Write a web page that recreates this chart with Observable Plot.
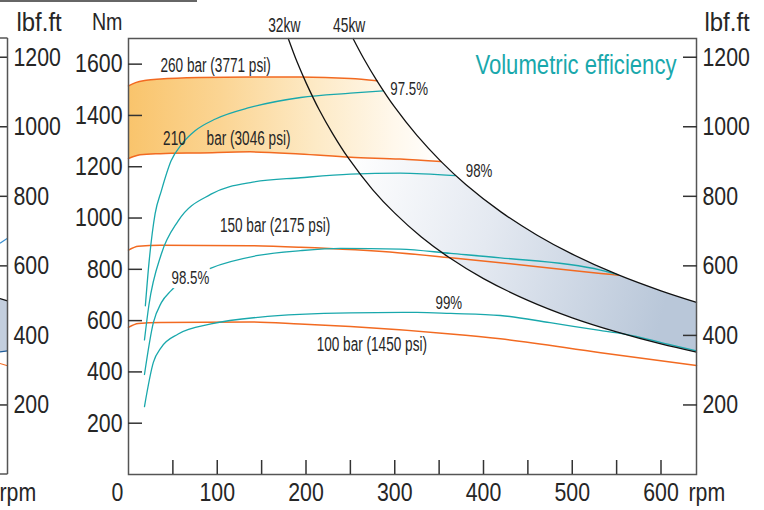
<!DOCTYPE html>
<html><head><meta charset="utf-8">
<script src="https://cdn.jsdelivr.net/npm/d3@7"></script>
<script src="https://cdn.jsdelivr.net/npm/@observablehq/plot@0.6"></script>
<style>
html,body{margin:0;padding:0;background:#fff;}
#chart{width:764px;height:510px;overflow:hidden;}
</style></head><body><div id="chart"></div>
<script>
// ---- data (rpm, Nm) ----
const NM_PER_LBF = 1.35582;
const rpmLabels = [100, 200, 300, 400, 500, 600];
const rpmMinorTicks = [50, 100, 150, 200, 250, 300, 350, 400, 450, 500, 550, 600];
const nmTicks = [200, 400, 600, 800, 1000, 1200, 1400, 1600];
const lbfTicks = [200, 400, 600, 800, 1000, 1200];

const bar260 = [[0,1515],[8,1528],[20,1537],[36,1542],[81,1548],[137,1550],[193,1550],[250,1544],[280,1535]];
const bar210 = [[0,1232],[13,1247],[36,1251],[81,1254],[137,1258],[193,1250],[250,1237],[306,1230],[352,1220]];
const bar150 = [[0,875],[11,890],[36,894],[137,892],[194,886],[306,864],[363,845],[419,826],[532,784],[552,777]];
const bar100 = [[0,574],[11,589],[36,593],[137,595],[193,587],[250,577],[363,548],[419,529],[532,475],[640,425]];

const eff975 = [[19,658],[23,822],[30,1017],[37,1106],[48,1223],[60,1288],[75,1340],[98,1386],[137,1431],[194,1470],[250,1487],[287,1496]];
const eff98  = [[18,525],[23,661],[37,860],[56,989],[93,1093],[140,1140],[194,1157],[250,1171],[306,1175],[368,1165]];
const eff985 = [[18,390],[28,592],[37,670],[48,717],[93,805],[144,853],[194,873],[239,882],[306,879],[363,862],[419,845],[532,797],[551,779]];
const eff99  = [[18,265],[28,437],[37,496],[56,548],[93,587],[146,613],[250,630],[325,632],[363,628],[419,620],[475,592],[531,562],[551,552],[580,532],[610,506],[640,482]];

const kw32 = [[180,1700],[190,1608],[200,1528],[215,1421],[230,1329],[247,1237],[275,1111],[300,1019],[330,926],[360,849],[400,764],[450,679],[500,611],[550,556],[600,509],[640,477]];
const kw45 = [[253,1700],[265,1622],[280,1535],[300,1432],[325,1322],[352,1221],[380,1131],[420,1023],[460,934],[500,859],[552,778],[600,716],[640,671]];

const pressureLabels = [
  {text: "260 bar (3771 psi)", rpm: 36, nm: 1593},
  {text: "210", rpm: 39, nm: 1311},
  {text: "bar (3046 psi)", rpm: 88, nm: 1309},
  {text: "150 bar (2175 psi)", rpm: 103, nm: 970},
  {text: "100 bar (1450 psi)", rpm: 212, nm: 508}
];
const effLabels = [
  {text: "97.5%", rpm: 295, nm: 1502},
  {text: "98%", rpm: 380, nm: 1184},
  {text: "99%", rpm: 346, nm: 668}
];
const effLabelOnLine = [{text: "98.5%", rpm: 48.5, nm: 765}];
const powerLabels = [{text: "32kw", rpm: 175.5}, {text: "45kw", rpm: 248.7}];

// left neighbour panel remnant (Nm at left / right edge of the sliver)
const remnantFillTop = [684, 675];
const remnantFillBottom = [476, 480];
const remnantOrange = [431, 422];
const remnantBlue = [900, 919];

// ---- derived shapes ----
const orangeBand = [...bar260, ...kw45.filter(d => d[0] > 280 && d[0] < 352), ...bar210.slice().reverse()];
const grayBand = [...bar210.filter(d => d[0] >= 250), ...kw45.filter(d => d[0] > 352), ...kw32.filter(d => d[0] >= 247).reverse()];

const ORANGE = "#F26A21", TEAL = "#19A8AC", BLACK = "#111", INK = "#262626", FRAME = "#555";
const FONT = "'Liberation Sans',Arial,sans-serif";
const X = d => d[0], Y = d => d[1];
const fmt = d => String(d);

const plot = Plot.plot({
  width: 764, height: 510,
  marginLeft: 128, marginRight: 68, marginTop: 38, marginBottom: 36,
  x: {domain: [0, 640]},
  y: {domain: [0, 1700]},
  style: {fontFamily: FONT, color: INK, background: "white", overflow: "visible"},
  marks: [
    Plot.line(orangeBand, {x: X, y: Y, fill: "url(#orangeFade)", stroke: "none"}),
    Plot.line(grayBand, {x: X, y: Y, fill: "url(#steelFade)", stroke: "none"}),
    ...[bar260, bar210, bar150, bar100].map(s => Plot.line(s, {x: X, y: Y, stroke: ORANGE, strokeWidth: 1.5, curve: "monotone-x"})),
    ...[eff975, eff98, eff985, eff99].map(s => Plot.line(s, {x: X, y: Y, stroke: TEAL, strokeWidth: 1.3, curve: "monotone-x"})),
    ...[kw32, kw45].map(s => Plot.line(s, {x: X, y: Y, stroke: BLACK, strokeWidth: 1.3, curve: "catmull-rom"})),
    Plot.frame({stroke: FRAME, strokeWidth: 1.5}),
    // inward ticks
    Plot.axisY(nmTicks, {anchor: "left", tickSize: 14, dx: 14, fill: "none", stroke: "#333", strokeWidth: 1.5, label: null}),
    Plot.axisY(lbfTicks.map(v => v * NM_PER_LBF), {anchor: "right", tickSize: 14, dx: -14, fill: "none", stroke: "#333", strokeWidth: 1.5, label: null}),
    Plot.axisX(rpmMinorTicks, {anchor: "bottom", tickSize: 14, dy: -14, fill: "none", stroke: "#333", strokeWidth: 1.5, label: null}),
    // tick labels
    Plot.axisY(nmTicks, {anchor: "left", tickSize: 0, tickPadding: 6, fontSize: 26, tickFormat: fmt, label: null}),
    Plot.axisY(lbfTicks.map(v => v * NM_PER_LBF), {anchor: "right", tickSize: 0, tickPadding: 6, fontSize: 26, tickFormat: d => String(Math.round(d / NM_PER_LBF)), label: null}),
    Plot.axisX(rpmLabels, {anchor: "bottom", tickSize: 0, tickPadding: 8, fontSize: 26, tickFormat: fmt, label: null}),
    Plot.text([0], {x: d => d, text: fmt, frameAnchor: "bottom", lineAnchor: "top", dy: 8, dx: -11, fontSize: 26}),
    Plot.text(["rpm"], {frameAnchor: "bottom-right", textAnchor: "start", lineAnchor: "top", dx: -8, dy: 8, fontSize: 26}),
    // axis titles
    Plot.text(["Nm"], {frameAnchor: "top-left", textAnchor: "end", lineAnchor: "middle", dx: -6, dy: -15.7, fontSize: 24}),
    Plot.text(["lbf.ft"], {frameAnchor: "top-right", textAnchor: "start", lineAnchor: "middle", dx: 8, dy: -16.3, fontSize: 26, ariaDescription: "narrow-92"}),
    // power labels
    Plot.text(powerLabels, {x: "rpm", text: "text", frameAnchor: "top", lineAnchor: "middle", dy: -12.5, fontSize: 20, ariaDescription: "narrow-69"}),
    // annotations
    Plot.text(pressureLabels, {x: "rpm", y: "nm", text: "text", textAnchor: "start", fontSize: 20, ariaDescription: "narrow-68"}),
    Plot.text(effLabels, {x: "rpm", y: "nm", text: "text", textAnchor: "start", fontSize: 19, ariaDescription: "narrow-70"}),
    Plot.text(effLabelOnLine, {x: "rpm", y: "nm", text: "text", textAnchor: "start", fontSize: 19, stroke: "white", strokeWidth: 9, fill: INK, ariaDescription: "narrow-70"}),
    Plot.text(["Volumetric efficiency"], {frameAnchor: "top-right", textAnchor: "end", lineAnchor: "middle", dx: -20, dy: 26.7, fontSize: 28, fill: TEAL, ariaDescription: "narrow-79"}),
    // left neighbour panel remnant texts
    Plot.text(lbfTicks, {y: d => d * NM_PER_LBF, text: fmt, frameAnchor: "left", textAnchor: "start", dx: -115, fontSize: 26}),
    Plot.text(["lbf.ft"], {frameAnchor: "top-left", textAnchor: "start", lineAnchor: "middle", dx: -112, dy: -16.3, fontSize: 26, ariaDescription: "narrow-92"}),
    Plot.text(["rpm"], {frameAnchor: "bottom-left", textAnchor: "start", lineAnchor: "top", dx: -129, dy: 8, fontSize: 26}),
    Plot.axisY(lbfTicks.map(v => v * NM_PER_LBF), {anchor: "left", tickSize: 7.5, dx: -120.5, fill: "none", stroke: "#333", strokeWidth: 1.5, label: null})
  ]
});

// condensed lettering: squeeze each text horizontally about its anchor point
plot.querySelectorAll("text").forEach(t => {
  const g = t.closest("g[aria-description]");
  const m = g ? /^narrow-(\d+)$/.exec(g.getAttribute("aria-description")) : null;
  const s = m ? +m[1] / 100 : 0.82;
  let tr = t.getAttribute("transform") || "";
  const xa = t.getAttribute("x");
  if (xa !== null && isFinite(+xa)) {
    t.removeAttribute("x");
    tr = `translate(${+xa},0) ${tr}`;
  }
  t.setAttribute("transform", `${tr} scale(${s},1)`.trim());
});

// gradients
const ns = "http://www.w3.org/2000/svg";
const defs = document.createElementNS(ns, "defs");
defs.innerHTML = `
<linearGradient id="orangeFade" x1="0" x2="1" y1="0" y2="0">
  <stop offset="0" stop-color="#F9C46C"/>
  <stop offset="0.3" stop-color="#FBD594"/>
  <stop offset="0.6" stop-color="#FDEAC6"/>
  <stop offset="0.85" stop-color="#FFF8EC"/>
  <stop offset="1" stop-color="#FFFFFF"/>
</linearGradient>
<linearGradient id="steelFade" x1="0" x2="1" y1="0" y2="0.15">
  <stop offset="0" stop-color="#FFFFFF"/>
  <stop offset="0.45" stop-color="#E4E9F1"/>
  <stop offset="1" stop-color="#B9C7D9"/>
</linearGradient>`;
plot.insertBefore(defs, plot.firstChild);

// remnant of the neighbouring panel on the left edge (uses the chart's y scale)
const ys = plot.scale("y").apply;
const g = document.createElementNS(ns, "g");
const edge = 7.5;
const seg = (x1, y1, x2, y2, stroke, w) => `<line x1="${x1}" y1="${y1}" x2="${x2}" y2="${y2}" stroke="${stroke}" stroke-width="${w}"/>`;
g.innerHTML =
  `<polygon points="0,${ys(remnantFillTop[0])} ${edge},${ys(remnantFillTop[1])} ${edge},${ys(remnantFillBottom[1])} 0,${ys(remnantFillBottom[0])}" fill="#C3CEDD"/>` +
  seg(0, ys(remnantFillTop[0]), edge, ys(remnantFillTop[1]), BLACK, 1.3) +
  seg(0, ys(remnantFillBottom[0]), edge, ys(remnantFillBottom[1]), "#1F5C99", 1.3) +
  seg(0, ys(remnantOrange[0]), edge, ys(remnantOrange[1]), ORANGE, 1.2) +
  seg(0, ys(remnantBlue[0]), edge, ys(remnantBlue[1]), "#3A8FD0", 1.2) +
  seg(edge, ys(1700), edge, ys(0), FRAME, 1.5) +
  seg(0, ys(1700), edge, ys(1700), FRAME, 1.5) +
  seg(0, ys(0), edge, ys(0), FRAME, 1.5) +
  seg(0, 1, 197, 1, "#333", 1.6);
plot.appendChild(g);

document.getElementById("chart").appendChild(plot);
</script></body></html>
